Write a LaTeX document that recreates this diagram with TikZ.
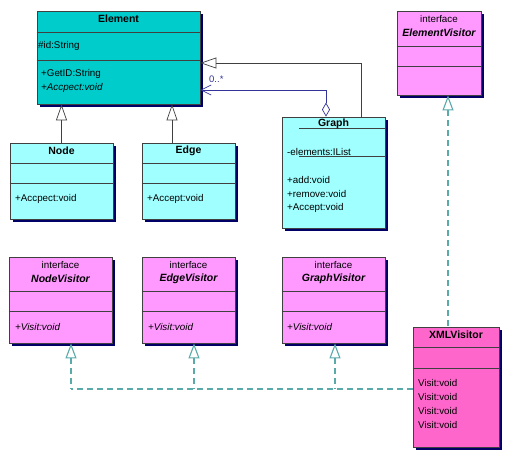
\documentclass[tikz,border=0pt]{standalone}
\usepackage{fontspec}
\setmainfont{Liberation Sans}
\usetikzlibrary{arrows.meta,shadows}
\definecolor{clsteal}{HTML}{00CCCC}
\definecolor{clscyan}{HTML}{A0FFFF}
\definecolor{ifpink}{HTML}{FF99FF}
\definecolor{xmlpink}{HTML}{FF66CC}
\definecolor{shadenavy}{HTML}{000066}
\definecolor{linegray}{HTML}{404040}
\definecolor{dashteal}{HTML}{5AAAAA}
\definecolor{aggblue}{HTML}{333399}
\tikzset{
  umlbox/.style={draw=linegray, line width=0.8pt, inner sep=0pt,
    drop shadow={shadow xshift=2.5pt, shadow yshift=-2.5pt, fill=shadenavy, opacity=1}},
  ttl/.style={font=\fontsize{10.5}{12}\selectfont\bfseries, inner sep=0pt},
  ifname/.style={font=\fontsize{10.5}{12}\selectfont\bfseries\itshape, inner sep=0pt},
  lbl/.style={font=\fontsize{9.8}{11}\selectfont, inner sep=0pt, anchor=west},
  gen/.style={draw=linegray, line width=0.7pt, -{Triangle[open, length=16pt, width=11pt]}},
  real/.style={draw=dashteal, line width=1.1pt, dash pattern=on 6pt off 4pt,
    {Triangle[open, length=15pt, width=11pt]}-},
}
\begin{document}
\begin{tikzpicture}[x=1pt, y=-1pt]
\useasboundingbox (0,0) rectangle (507,450);

\node[umlbox, fill=clsteal, minimum width=163pt, minimum height=93pt] (element) at (118.5,57.5) {};
\node[umlbox, fill=clscyan, minimum width=103pt, minimum height=76pt] (nodecls) at (61.5,181) {};
\node[umlbox, fill=clscyan, minimum width=93pt, minimum height=76pt] (edgecls) at (188.5,181) {};
\node[umlbox, fill=clscyan, minimum width=103pt, minimum height=111pt] (graph) at (333.5,172.5) {};
\node[umlbox, fill=ifpink, minimum width=84pt, minimum height=84pt] (elemvisitor) at (439,53) {};
\node[umlbox, fill=ifpink, minimum width=103pt, minimum height=86pt] (nodevisitor) at (60.5,300) {};
\node[umlbox, fill=ifpink, minimum width=93pt, minimum height=86pt] (edgevisitor) at (188.5,300) {};
\node[umlbox, fill=ifpink, minimum width=103pt, minimum height=86pt] (graphvisitor) at (333.5,300) {};
\node[umlbox, fill=xmlpink, minimum width=86pt, minimum height=120pt] (xmlvisitor) at (456,387) {};

\foreach \n/\a/\b in {element/32/60, nodecls/163/183, edgecls/163/183, elemvisitor/46/66,
    nodevisitor/291/311, edgevisitor/291/311, graphvisitor/291/311, xmlvisitor/347/368} {
  \draw[linegray, line width=0.8pt] (\n.west |- 0,\a) -- (\n.east |- 0,\a);
  \draw[linegray, line width=0.8pt] (\n.west |- 0,\b) -- (\n.east |- 0,\b);
}
\draw[linegray, line width=0.8pt] (299,128) -- (graph.east |- 0,128);
\draw[linegray, line width=0.8pt] (299,156) -- (graph.east |- 0,156);

\node[ttl] (elementname) at (118.5,19) {Element};
\node[lbl] (elementid) at (38,46) {\#id:String};
\node[lbl] (elementget) at (41,74) {+GetID:String};
\node[lbl, font=\fontsize{9.8}{11}\selectfont\itshape] (elementacc) at (41,88) {+Accpect:void};
\node[ttl] (nodename) at (61.5,151) {Node};
\node[lbl] (nodeacc) at (15,199) {+Accpect:void};
\node[ttl] (edgename) at (188.5,151) {Edge};
\node[lbl] (edgeacc) at (147,199) {+Accept:void};
\node[ttl] (graphname) at (333.5,124) {Graph};
\node[lbl] (graphelems) at (287,152) {-elements:IList};
\foreach \t [count=\i] in {+add:void, +remove:void, +Accept:void}
  \node[lbl] (graphop\i) at (287,166+14*\i) {\t};

\node[lbl, anchor=center] (evkind) at (439,19) {interface};
\node[ifname] (evname) at (439,33) {ElementVisitor};
\foreach \n/\t/\x/\o in {nodevisitor/NodeVisitor/60.5/15, edgevisitor/EdgeVisitor/188.5/148,
    graphvisitor/GraphVisitor/333.5/287} {
  \node[lbl, anchor=center] (\n-kind) at (\x,265) {interface};
  \node[ifname] (\n-name) at (\x,279) {\t};
  \node[lbl, font=\fontsize{9.8}{11}\selectfont\itshape] (\n-op) at (\o,327) {+Visit:void};
}
\node[ttl] (xmlname) at (456,335) {XMLVisitor};
\foreach \i in {0,...,3}
  \node[lbl] (xmlop\i) at (418,383+14*\i) {Visit:void};

\draw[gen] (nodecls.north) -- (nodecls.north |- element.south);
\draw[gen] ([xshift=-16.5pt]edgecls.north) -- ([xshift=-16.5pt]edgecls.north |- element.south);
\draw[gen] ([xshift=27.5pt]graph.north) |- ([yshift=-5.5pt]element.east);
\draw[aggblue, line width=0.7pt, {Diamond[open, length=14pt, width=8pt]}-{Straight Barb[length=10pt, width=10pt]}]
  ([xshift=-7.5pt]graph.north) |- ([yshift=-32.5pt]element.east);
\node[lbl, text=aggblue, font=\fontsize{9.5}{11}\selectfont] (mult) at (209,79) {0..*};

\draw[real] ([xshift=9pt]elemvisitor.south) -- ([xshift=9pt]elemvisitor.south |- xmlvisitor.north);
\draw[dashteal, line width=1.1pt, dash pattern=on 6pt off 4pt]
  ([yshift=-2pt]xmlvisitor.west) -- (71,389);
\foreach \n/\x in {nodevisitor/71, edgevisitor/194, graphvisitor/335}
  \draw[real] (\n.south -| \x,0) -- (\x,389);
\end{tikzpicture}
\end{document}
